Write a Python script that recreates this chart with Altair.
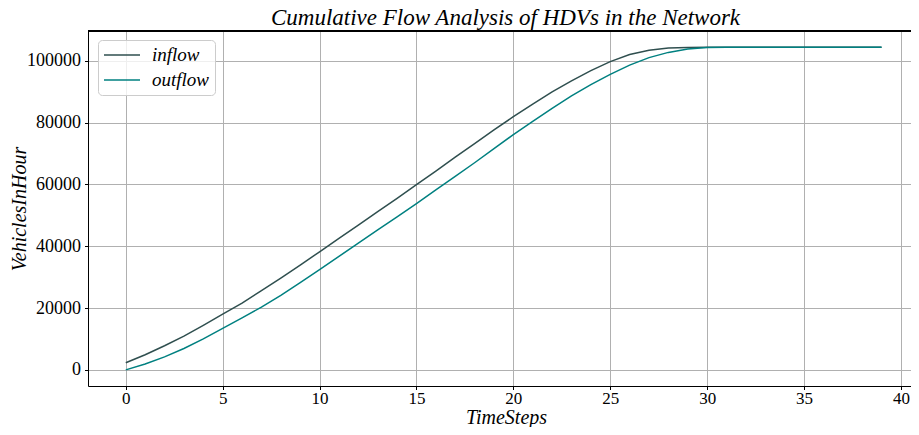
import altair as alt
import pandas as pd

steps = list(range(40))
inflow = [2300, 4900, 7800, 10900, 14400, 18000, 21600, 25600, 29700, 33900,
          38200, 42500, 46800, 51200, 55500, 59900, 64300, 68800, 73200, 77600,
          81900, 86000, 89900, 93500, 96800, 99700, 102000, 103400, 104100, 104300,
          104400, 104400, 104400, 104400, 104400, 104400, 104400, 104400, 104400, 104400]
outflow = [0, 1900, 4200, 6900, 10000, 13400, 16800, 20300, 24100, 28200,
           32400, 36700, 41000, 45300, 49500, 53800, 58200, 62600, 67000, 71600,
           76100, 80400, 84600, 88600, 92300, 95600, 98600, 101000, 102700, 103800,
           104300, 104400, 104400, 104400, 104400, 104400, 104400, 104400, 104400, 104400]
series_names = ["inflow", "outflow"]
series_colors = ["#2F4F4F", "#008080"]
x_ticks = [0, 5, 10, 15, 20, 25, 30, 35, 40]
y_ticks = [0, 20000, 40000, 60000, 80000, 100000]

rows = []
for name, vals in zip(series_names, [inflow, outflow]):
    for s, v in zip(steps, vals):
        rows.append({"step": s, "value": v, "series": name})
df = pd.DataFrame(rows)

FONT = "Liberation Serif"
W, H = 823, 355

lines = alt.Chart(df).mark_line(strokeWidth=1.5).encode(
    x=alt.X("step:Q",
            scale=alt.Scale(domain=[-1.95, 40.52], nice=False, zero=False),
            axis=alt.Axis(values=x_ticks, title="TimeSteps", format="d",
                          titleFontStyle="italic", titleFont=FONT, titleFontSize=20,
                          titleFontWeight="normal", titleColor="black",
                          titleX=418, titleAlign="center",
                          titleY=37, titleBaseline="alphabetic",
                          labelFont=FONT, labelFontSize=17, labelColor="black",
                          labelPadding=1, tickSize=3.5, tickColor="black",
                          domainColor="black", domainWidth=1,
                          grid=True, gridColor="#b0b0b0", gridWidth=1)),
    y=alt.Y("value:Q",
            scale=alt.Scale(domain=[-5220, 109620], nice=False, zero=False),
            axis=alt.Axis(values=y_ticks, title="VehiclesInHour", format="d",
                          titleFontStyle="italic", titleFont=FONT, titleFontSize=20,
                          titleFontWeight="normal", titleColor="black",
                          titleX=-69, titleY=H / 2, titleBaseline="middle",
                          titleAngle=-90, titleAlign="center",
                          labelFont=FONT, labelFontSize=18, labelColor="black",
                          labelPadding=4, tickSize=3.5, tickColor="black",
                          domainColor="black", domainWidth=1,
                          grid=True, gridColor="#b0b0b0", gridWidth=1)),
    color=alt.Color("series:N",
                    scale=alt.Scale(domain=series_names, range=series_colors),
                    legend=alt.Legend(title=None, orient="none", legendX=10, legendY=9,
                                      symbolType="stroke", symbolSize=1296,
                                      symbolStrokeWidth=1.5, clipHeight=20,
                                      labelFont=FONT, labelFontStyle="italic",
                                      labelFontSize=19, labelColor="black",
                                      labelOffset=11, rowPadding=5,
                                      padding=5, strokeColor="#cccccc",
                                      fillColor="rgba(255,255,255,0.8)",
                                      cornerRadius=4)),
)

top_spine = alt.Chart(df).mark_rule(color="black", strokeWidth=1).encode(
    x=alt.value(0), x2=alt.value(W), y=alt.value(0)
)

chart = alt.layer(lines, top_spine).properties(
    width=W, height=H,
    title=alt.TitleParams("Cumulative Flow Analysis of HDVs in the Network",
                          font=FONT, fontSize=23, fontStyle="italic",
                          fontWeight="normal", color="black", anchor="middle",
                          dx=6, offset=1),
    autosize=alt.AutoSizeParams(type="none"),
    padding={"left": 80, "top": 23, "right": 0, "bottom": 41},
).configure_view(stroke=None)

chart.save("out.html", embed_options={"renderer": "svg", "actions": False})
